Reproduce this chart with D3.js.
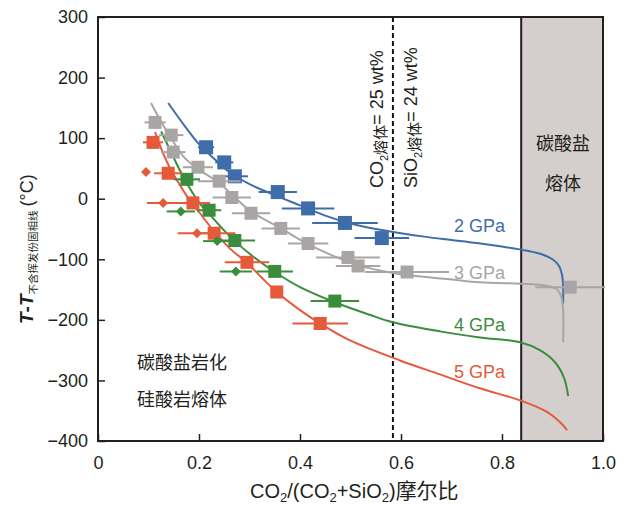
<!DOCTYPE html>
<html><head><meta charset="utf-8">
<script src="https://cdn.jsdelivr.net/npm/d3@7"></script>
<style>
body{margin:0;background:#fff}
text{font-family:"Liberation Sans",Arial,"Noto Sans CJK SC",sans-serif;fill:#231f20}
.cjk{font-family:"Noto Sans CJK SC","Liberation Sans",sans-serif}
</style>
</head><body>
<svg id="c" width="627" height="506"></svg>
<script>
// ---------- data ----------
const xTicks = [0, 0.2, 0.4, 0.6, 0.8, 1.0];
const yTicks = [300, 200, 100, 0, -100, -200, -300, -400];
const pressures = ["2 GPa", "3 GPa", "4 GPa", "5 GPa"];
const colors = ["#3f6daa", "#aaa5a5", "#3b8d3e", "#e55a3a"];

// measured squares: [x, T, x-error]
const sq2 = [[0.214,85,0.016],[0.250,60,0.018],[0.271,37,0.026],[0.356,11,0.038],[0.416,-16,0.052],[0.489,-40,0.065],[0.562,-65,0.054]];
const sq3 = [[0.113,126,0.021],[0.145,105,0.024],[0.149,77,0.024],[0.198,52,0.03],[0.240,29,0.042],[0.265,2,0.038],[0.303,-24,0.038],[0.362,-49,0.038],[0.416,-74,0.04],[0.495,-97,0.063],[0.515,-111,0.044],[0.612,-121,0.083],[0.935,-146,0.069]];
const sq4 = [[0.176,32,0.026],[0.220,-19,0.024],[0.271,-69,0.04],[0.350,-120,0.036],[0.469,-169,0.048]];
const sq5 = [[0.109,93,0.02],[0.139,42,0.028],[0.188,-7,0.034],[0.230,-57,0.042],[0.295,-105,0.044],[0.354,-154,0],[0.440,-206,0.055]];
// diamonds: [x, T, x-error]
const dm4 = [[0.164,-21,0.028],[0.236,-70,0.028],[0.273,-120,0.032]];
const dm5 = [[0.095,44,0],[0.129,-7,0.032],[0.196,-57,0.038]];

// fitted curves: [x, T]
const fit2 = [[0.139,158],[0.17,122],[0.20,90],[0.23,66],[0.26,44],[0.30,24],[0.35,6],[0.40,-11],[0.45,-28],[0.50,-41],[0.55,-50],[0.60,-57],[0.65,-63],[0.70,-68],[0.75,-73],[0.80,-79],[0.85,-86],[0.88,-92],[0.90,-100],[0.913,-111],[0.919,-126],[0.921,-145],[0.921,-173]];
const fit3 = [[0.105,158],[0.123,130],[0.147,97],[0.172,67],[0.202,47],[0.240,26],[0.271,2],[0.303,-21],[0.362,-49],[0.416,-75],[0.459,-92],[0.515,-110],[0.568,-120],[0.612,-126],[0.697,-133],[0.756,-138],[0.855,-141],[0.895,-145],[0.909,-150],[0.917,-161],[0.921,-184],[0.921,-237]];
const fit4 = [[0.125,111],[0.143,80],[0.162,47],[0.182,17],[0.202,-8],[0.222,-27],[0.246,-49],[0.271,-70],[0.311,-98],[0.350,-121],[0.400,-146],[0.469,-171],[0.539,-192],[0.584,-204],[0.677,-219],[0.756,-229],[0.836,-237],[0.875,-250],[0.905,-270],[0.923,-296],[0.931,-326]];
const fit5 = [[0.113,110],[0.129,75],[0.143,50],[0.156,31],[0.182,-3],[0.202,-24],[0.228,-52],[0.261,-82],[0.295,-106],[0.325,-131],[0.354,-154],[0.400,-184],[0.440,-206],[0.499,-234],[0.598,-267],[0.677,-290],[0.756,-313],[0.836,-333],[0.889,-352],[0.915,-369],[0.929,-382]];

const carbonateMeltStart = 0.838;  // shaded carbonate melt region
const dashedX = 0.584;            // CO2 = 25 wt%, SiO2 = 24 wt%

// ---------- drawing ----------
const svg = d3.select("#c");
const L = 98, R = 603, T = 17, B = 441;
const x = d3.scaleLinear([0, 1], [L, R]);
const y = d3.scaleLinear([-400, 300], [B, T]);

// shaded region
svg.append("rect").attr("x", x(carbonateMeltStart)).attr("y", y(300))
  .attr("width", x(1) - x(carbonateMeltStart)).attr("height", y(-400) - y(300))
  .attr("fill", "#d4cecc");
svg.append("line").attr("x1", x(carbonateMeltStart)).attr("x2", x(carbonateMeltStart))
  .attr("y1", y(300)).attr("y2", y(-400)).attr("stroke", "#231f20").attr("stroke-width", 2);

// dashed line
svg.append("line").attr("x1", x(dashedX)).attr("x2", x(dashedX))
  .attr("y1", y(300)).attr("y2", y(-400)).attr("stroke", "#111")
  .attr("stroke-width", 2).attr("stroke-dasharray", "5,3");

// axes
const ax = svg.append("g").attr("transform", `translate(0,${B})`)
  .call(d3.axisBottom(x).tickValues(xTicks).tickSize(-7).tickPadding(15).tickFormat(d => d === 0 ? "0" : d3.format(".1f")(d)));
const ay = svg.append("g").attr("transform", `translate(${L},0)`)
  .call(d3.axisLeft(y).tickValues(yTicks).tickSize(-7).tickPadding(10).tickFormat(d => d < 0 ? "\u2212" + Math.abs(d) : d));
[ax, ay].forEach(g => {
  g.select(".domain").remove();
  g.selectAll(".tick line").attr("stroke", "#231f20").attr("stroke-width", 1.5);
  g.selectAll(".tick text").attr("font-size", 18).attr("fill", "#231f20")
    .style("font-family", '"Liberation Sans",Arial,sans-serif');
});
svg.append("rect").attr("x", L).attr("y", T).attr("width", R - L).attr("height", B - T)
  .attr("fill", "none").attr("stroke", "#231f20").attr("stroke-width", 2);

// curves
const line = d3.line().x(d => x(d[0])).y(d => y(d[1])).curve(d3.curveCatmullRom.alpha(0.5));
[fit2, fit3, fit4, fit5].forEach((f, i) => {
  svg.append("path").attr("d", line(f)).attr("fill", "none")
    .attr("stroke", colors[i]).attr("stroke-width", 2);
});

// error bars + markers
const groups = [
  {pts: sq2, c: 0, shape: "sq", s: 14},
  {pts: sq3, c: 1, shape: "sq", s: 13},
  {pts: sq4, c: 2, shape: "sq", s: 13},
  {pts: sq5, c: 3, shape: "sq", s: 13},
  {pts: dm4, c: 2, shape: "dm", s: 10},
  {pts: dm5, c: 3, shape: "dm", s: 10}
];
groups.forEach(g => {
  const gg = svg.append("g");
  gg.selectAll("line").data(g.pts.filter(d => d[2] > 0)).join("line")
    .attr("x1", d => x(d[0] - d[2])).attr("x2", d => x(d[0] + d[2]))
    .attr("y1", d => y(d[1])).attr("y2", d => y(d[1]))
    .attr("stroke", colors[g.c]).attr("stroke-width", 2);
  if (g.shape === "sq") {
    gg.selectAll("rect").data(g.pts).join("rect")
      .attr("x", d => x(d[0]) - g.s / 2).attr("y", d => y(d[1]) - g.s / 2)
      .attr("width", g.s).attr("height", g.s).attr("fill", colors[g.c]);
  } else {
    gg.selectAll("path").data(g.pts).join("path")
      .attr("d", d => { const cx = x(d[0]), cy = y(d[1]), h = g.s / 2;
        return `M${cx},${cy - h}L${cx + h},${cy}L${cx},${cy + h}L${cx - h},${cy}Z`; })
      .attr("fill", colors[g.c]);
  }
});

// pressure labels
const labPos = [[0.806, -55], [0.806, -132], [0.806, -218], [0.806, -296]];
pressures.forEach((p, i) => {
  svg.append("text").attr("x", x(labPos[i][0])).attr("y", y(labPos[i][1]))
    .attr("text-anchor", "end").attr("font-size", 18).style("fill", colors[i]).text(p);
});

// vertical composition labels
function rotLabel(cx, main, rest) {
  const t = svg.append("text").attr("transform", `translate(${cx},188) rotate(-90)`)
    .attr("font-size", 18);
  t.append("tspan").text(main);
  t.append("tspan").attr("font-size", 11).attr("dy", 5).text("2");
  t.append("tspan").attr("class", "cjk").attr("font-size", 15).attr("dy", -2).text("熔体");
  t.append("tspan").attr("dy", -3).text(rest);
}
rotLabel(383, "CO", "= 25 wt%");
rotLabel(417, "SiO", "= 24 wt%");

// region labels
svg.append("text").attr("class", "cjk").attr("x", 563).attr("y", 150).attr("text-anchor", "middle")
  .attr("font-size", 18).text("碳酸盐");
svg.append("text").attr("class", "cjk").attr("x", 563).attr("y", 190).attr("text-anchor", "middle")
  .attr("font-size", 18).text("熔体");
svg.append("text").attr("class", "cjk").attr("x", 137).attr("y", 369).attr("font-size", 18).text("碳酸盐岩化");
svg.append("text").attr("class", "cjk").attr("x", 137).attr("y", 406).attr("font-size", 18).text("硅酸岩熔体");

// x axis title
const xt = svg.append("text").attr("x", 250).attr("y", 498).attr("font-size", 20);
xt.append("tspan").text("CO");
xt.append("tspan").attr("font-size", 13).attr("dy", 4).text("2");
xt.append("tspan").attr("dy", -4).text("/(CO");
xt.append("tspan").attr("font-size", 13).attr("dy", 4).text("2");
xt.append("tspan").attr("dy", -4).text("+SiO");
xt.append("tspan").attr("font-size", 13).attr("dy", 4).text("2");
xt.append("tspan").attr("dy", -4).text(")");
xt.append("tspan").attr("class", "cjk").attr("font-size", 21).text("摩尔比");

// y axis title
const yt = svg.append("text").attr("transform", "translate(33,324) rotate(-90)").attr("font-size", 19);
yt.append("tspan").attr("font-style", "italic").attr("font-weight", "bold").text("T");
yt.append("tspan").attr("font-weight", "bold").text("-");
yt.append("tspan").attr("font-style", "italic").attr("font-weight", "bold").text("T");
yt.append("tspan").attr("class", "cjk").attr("font-size", 10.5).attr("dy", 4).text("不含挥发份固相线");
yt.append("tspan").attr("dy", -4).attr("dx", 4).attr("font-size", 18).text("(°C)");
</script>
</body></html>
